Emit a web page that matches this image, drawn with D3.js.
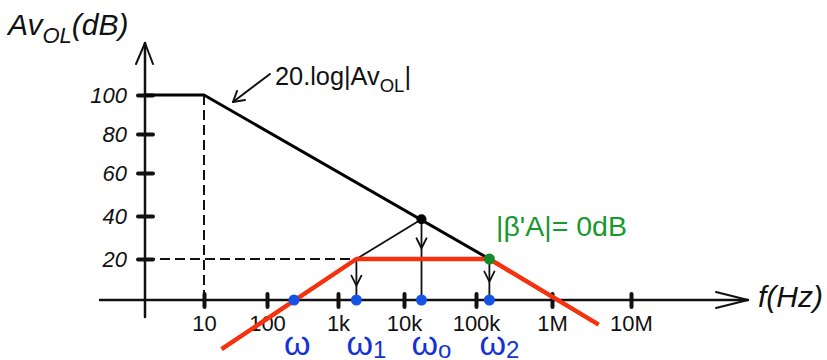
<!DOCTYPE html>
<html>
<head>
<meta charset="utf-8">
<script src="https://cdn.jsdelivr.net/npm/d3@7"></script>
<style>
  body { margin: 0; background: #fff; }
  text { font-family: "Liberation Sans", Arial, sans-serif; }
</style>
</head>
<body>
<svg id="chart" width="827" height="360"></svg>
<script>
// Frequency axis: decade ticks (Hz) and their labels
const freqTicks = [10, 100, 1e3, 1e4, 1e5, 1e6, 1e7];
const freqTickLabels = ["10", "100", "1k", "10k", "100k", "1M", "10M"];
// Gain axis ticks (dB)
const gainTicks = [20, 40, 60, 80, 100];

// Open-loop gain asymptote: 100 dB up to 10 Hz, then -20 dB/decade
const openLoopFreq = [1, 10, 1.5e5];
const openLoopGain = [100, 100, 20];

// Closed-loop (band-pass) response
const bandFreq = [19, 1.9e3, 1.5e5, 3.9e6];
const bandGain = [-24, 20, 20, -12];

// Characteristic frequencies on the f axis
const markerName = ["ω", "ω", "ω", "ω"];
const markerSub = ["", "1", "o", "2"];
const markerFreq = [240, 1.9e3, 1.75e4, 1.5e5];

// Projections onto the f axis: start gain and where the arrowhead sits (dB)
const dropFreq = [1.9e3, 1.75e4, 1.5e5];
const dropFromGain = [20, 38.5, 20];
const dropArrowGain = [7, 25, 9];

// Crossing of the open-loop curve (ωo) and the 0 dB loop-gain point (ω2)
const crossFreq = 1.75e4, crossGain = 38.5;
const unityFreq = 1.5e5, unityGain = 20;

const svg = d3.select("#chart");

// Hand-spaced log axis and gain axis
const x = d3.scaleLog()
  .domain([1, ...freqTicks])
  .range([145, 204, 267, 338, 404, 476, 552, 631]);
const y = d3.scaleLinear()
  .domain([0, ...gainTicks])
  .range([300, 259, 216, 173, 134, 95]);

const x0 = x(1), y0 = y(0);
const ink = "#111";

// ---- dashed guides ----
const guides = svg.append("g")
  .attr("stroke", ink).attr("stroke-width", 2)
  .attr("stroke-dasharray", "10,5").attr("fill", "none");
guides.append("line")
  .attr("x1", x(10)).attr("x2", x(10))
  .attr("y1", y(100)).attr("y2", y(0));
guides.append("line")
  .attr("x1", x0).attr("x2", x(bandFreq[1]))
  .attr("y1", y(20)).attr("y2", y(20));

// ---- axes ----
const xAxis = d3.axisBottom(x)
  .tickValues(freqTicks)
  .tickFormat((d, i) => freqTickLabels[i])
  .tickSize(0);
const gx = svg.append("g").attr("transform", `translate(0,${y0})`).call(xAxis);
gx.select(".domain").remove();
gx.selectAll(".tick line")
  .attr("y1", -6).attr("y2", 7)
  .attr("stroke", ink).attr("stroke-width", 4).attr("stroke-linecap", "round");
gx.selectAll(".tick text")
  .attr("y", 31).attr("dy", 0)
  .attr("fill", ink)
  .style("font-size", "22px")
  .style("font-family", "'Liberation Sans', Arial, sans-serif");

const yAxis = d3.axisLeft(y).tickValues(gainTicks).tickSize(0);
const gy = svg.append("g").attr("transform", `translate(${x0},0)`).call(yAxis);
gy.select(".domain").remove();
gy.selectAll(".tick line")
  .attr("x1", -7).attr("x2", 8)
  .attr("stroke", ink).attr("stroke-width", 4).attr("stroke-linecap", "round");
gy.selectAll(".tick text")
  .attr("x", -18).attr("dy", "0.36em")
  .attr("fill", ink)
  .style("font-size", "22px")
  .style("font-style", "italic")
  .style("font-family", "'Liberation Sans', Arial, sans-serif");

// axis lines with open arrowheads
const axes = svg.append("g").attr("stroke", ink).attr("stroke-width", 2.5)
  .attr("fill", "none").attr("stroke-linecap", "round").attr("stroke-linejoin", "round");
axes.append("line").attr("x1", 100).attr("x2", 748).attr("y1", y0).attr("y2", y0);
axes.append("path").attr("d", `M716,${y0 - 8}L748,${y0}L716,${y0 + 8}`).attr("stroke-width", 2);
axes.append("line").attr("x1", x0).attr("x2", x0).attr("y1", 43).attr("y2", 317);
axes.append("path").attr("d", `M${x0 - 9},64L${x0},43L${x0 + 8},64`).attr("stroke-width", 2);

// axis titles
const yTitle = svg.append("text").attr("x", 8).attr("y", 35)
  .attr("fill", ink).style("font-style", "italic").style("font-size", "30px");
yTitle.append("tspan").text("Av");
yTitle.append("tspan").attr("dy", 8).style("font-size", "22px").text("OL");
yTitle.append("tspan").attr("dy", -8).text("(dB)");

svg.append("text").attr("x", 758).attr("y", 307)
  .attr("fill", ink).style("font-style", "italic").style("font-size", "30px")
  .text("f(Hz)");

// ---- open-loop asymptote ----
const line = d3.line().x(d => x(d[0])).y(d => y(d[1]));
svg.append("path")
  .datum(d3.zip(openLoopFreq, openLoopGain))
  .attr("d", line)
  .attr("fill", "none").attr("stroke", "#000").attr("stroke-width", 3)
  .attr("stroke-linejoin", "round");

// ---- thin construction lines and projections ----
const thin = svg.append("g").attr("stroke", ink).attr("stroke-width", 1.8)
  .attr("fill", "none").attr("stroke-linecap", "round").attr("stroke-linejoin", "round");
thin.append("line")
  .attr("x1", x(crossFreq)).attr("y1", y(crossGain))
  .attr("x2", x(bandFreq[1])).attr("y2", y(bandGain[1]));
dropFreq.forEach((f, i) => {
  const px = x(f);
  thin.append("line").attr("x1", px).attr("x2", px)
    .attr("y1", y(dropFromGain[i])).attr("y2", y0);
  const ty = y(dropArrowGain[i]);
  thin.append("path").attr("d", `M${px - 5},${ty - 10}L${px},${ty}L${px + 5},${ty - 10}`);
});

// ---- band-pass response ----
svg.append("path")
  .datum(d3.zip(bandFreq, bandGain))
  .attr("d", line)
  .attr("fill", "none").attr("stroke", "#f4320e").attr("stroke-width", 4.5)
  .attr("stroke-linejoin", "round");

// ---- points ----
svg.append("circle").attr("cx", x(crossFreq)).attr("cy", y(crossGain))
  .attr("r", 5).attr("fill", "#000");
svg.append("circle").attr("cx", x(unityFreq)).attr("cy", y(unityGain))
  .attr("r", 5.5).attr("fill", "#178a2c");
svg.selectAll("circle.marker").data(markerFreq).join("circle")
  .attr("class", "marker")
  .attr("cx", d => x(d)).attr("cy", y0)
  .attr("r", 5.5).attr("fill", "#1552e6");

// frequency names under the axis
markerFreq.forEach((f, i) => {
  const t = svg.append("text").attr("x", x(f) - 10).attr("y", 355)
    .attr("fill", "#1433d4").style("font-size", "34px");
  t.append("tspan").text(markerName[i]);
  if (markerSub[i]) t.append("tspan").attr("dy", 3).style("font-size", "24px").text(markerSub[i]);
});

// ---- annotations ----
const ann = svg.append("text").attr("x", 275).attr("y", 85)
  .attr("fill", ink).style("font-size", "26px")
  .attr("textLength", 136).attr("lengthAdjust", "spacingAndGlyphs");
ann.append("tspan").text("20.log|Av");
ann.append("tspan").attr("dy", 7).style("font-size", "19px").text("OL");
ann.append("tspan").attr("dy", -7).text("|");

const pointer = svg.append("g").attr("stroke", ink).attr("stroke-width", 2)
  .attr("fill", "none").attr("stroke-linecap", "round").attr("stroke-linejoin", "round");
pointer.append("line").attr("x1", 270).attr("y1", 74).attr("x2", 233).attr("y2", 102);
pointer.append("path").attr("d", "M237,91L233,102L245,100");

svg.append("text").attr("x", 496).attr("y", 236)
  .attr("fill", "#17992d").style("font-size", "27px")
  .attr("textLength", 131).attr("lengthAdjust", "spacingAndGlyphs")
  .text("|β'A|= 0dB");
</script>
</body>
</html>
